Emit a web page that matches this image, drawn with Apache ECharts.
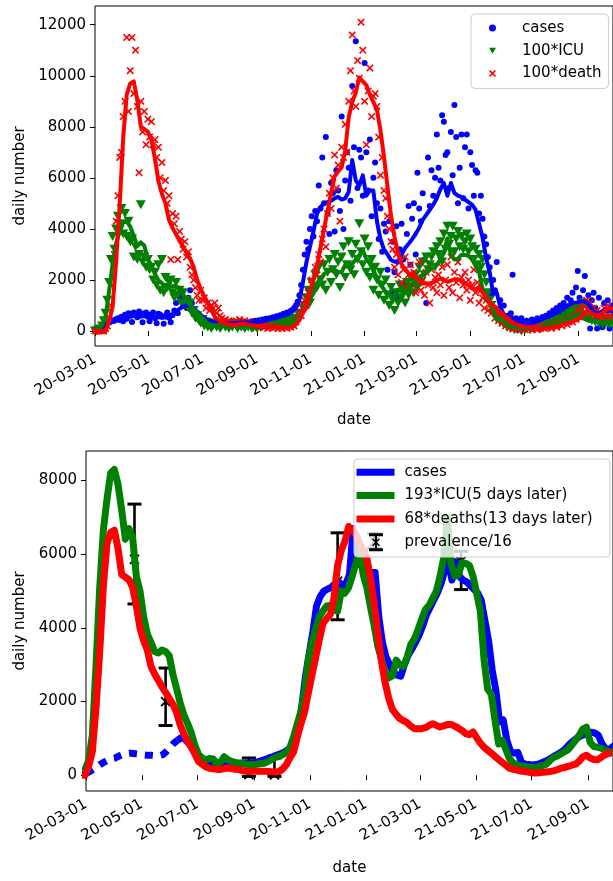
<!DOCTYPE html>
<html>
<head>
<meta charset="UTF-8">
<title>daily number</title>
<script src="https://cdn.jsdelivr.net/npm/echarts@6.0.0/dist/echarts.min.js"></script>
<style>
  html, body { margin: 0; padding: 0; background: #fff; }
  #chart_top { position: absolute; left: 0; top: 0; width: 613px; height: 440px; }
  #chart_bottom { position: absolute; left: 0; top: 440px; width: 613px; height: 441px; }
</style>
</head>
<body>
<div id="chart_top"></div>
<div id="chart_bottom"></div>
<script>
// day 0 = 2020-03-01
var START = Date.UTC(2020, 2, 1);
function dayOf(s) {
  var p = s.split('-');
  return (Date.UTC(+p[0], +p[1] - 1, +p[2]) - START) / 86400000;
}

var tickLabels = ['20-03-01', '20-05-01', '20-07-01', '20-09-01', '20-11-01',
                  '21-01-01', '21-03-01', '21-05-01', '21-07-01', '21-09-01'];
var tickDays = tickLabels.map(function (t) { return dayOf('20' + t); });

var topYTicks = [0, 2000, 4000, 6000, 8000, 10000, 12000];
var bottomYTicks = [0, 2000, 4000, 6000, 8000];

// daily points, one every 2 days from 2020-03-01
var DAILY_STEP = 2;
var casesDaily = [
  20, 40, 60, 120, 150, 200, 260, 300, 330, 380, 420, 400, 460, 500, 430,
  560, 380, 640, 480, 700, 620, 350, 720, 680, 540, 760, 600, 340, 700, 720,
  560, 380, 660, 720, 500, 300, 680, 640, 560, 280, 600, 720, 520, 340, 620,
  800, 1100, 700, 1300, 1500, 1200, 1000, 900, 1300, 1600, 1100, 800, 600, 520, 450,
  380, 300, 420, 350, 260, 320, 380, 240, 300, 350, 220, 280, 330, 260, 300,
  320, 250, 280, 350, 300, 240, 330, 380, 280, 310, 360, 290, 340, 300, 380,
  330, 400, 350, 420, 380, 450, 400, 480, 440, 500, 460, 540, 520, 580, 560,
  620, 600, 680, 640, 720, 700, 780, 820, 900, 1000, 1150, 1400, 1800, 2400, 3000,
  3500, 3200, 4000, 4500, 3700, 4700, 4300, 5700, 4800, 6800, 5000, 7600, 4600, 3800, 5800,
  5400, 3900, 6300, 5500, 4700, 8400, 4000, 5900, 7000, 6400, 5100, 9600, 7200, 11350, 5600,
  7100, 6800, 5300, 10500, 7000, 5500, 7500, 4500, 6000, 6600, 5000, 3600, 4800, 3100, 4200,
  3900, 2400, 4300, 1500, 3500, 2300, 4100, 1300, 3200, 4200, 2800, 1800, 3800, 4900, 2600,
  4400, 5000, 3000, 6200, 4800, 4300, 5400, 2800, 1100, 6800, 4900, 6300, 5300, 6000, 7700,
  6400, 5900, 8450, 8200, 6900, 7000, 5600, 7800, 6100, 8850, 7600, 5000, 6400, 7700, 5200,
  7200, 7700, 4800, 7000, 6500, 5300, 6300, 6200, 4600, 5300, 4400, 3700, 3400, 2900, 2500,
  1400, 2000, 1600, 2700, 800, 1200, 500, 1000, 250, 600, 400, 700, 2200, 300, 500,
  200, 350, 500, 300, 150, 400, 300, 250, 450, 350, 200, 500, 400, 300, 550,
  450, 600, 350, 700, 550, 800, 400, 900, 650, 1000, 750, 1100, 800, 1300, 950,
  1200, 1500, 1000, 1700, 2350, 1300, 1100, 1600, 2150, 1000, 1400, 100, 1200, 1500, 900,
  100, 1300, 600, 150, 1100, 800, 1200, 100, 900, 1000, 700
];
var icuDaily = [
  0, 0, 50, 80, 200, 400, 700, 1200, 1900, 2800, 3700, 3200, 4000, 4500, 4200,
  4800, 3800, 4600, 3700, 4300, 3500, 3600, 2900, 3300, 2800, 3000, 4950, 2700, 2900, 2500,
  2800, 2400, 2500, 2000, 2300, 1800, 2600, 1600, 2800, 1500, 2100, 1700, 1900, 2000, 1500,
  1300, 1900, 1400, 1600, 1100, 1500, 1000, 1200, 900, 1100, 700, 800, 500, 600, 400,
  300, 450, 200, 350, 150, 250, 100, 200, 300, 150, 250, 100, 200, 300, 150,
  200, 100, 250, 150, 300, 200, 100, 250, 150, 200, 100, 200, 150, 250, 100,
  150, 200, 100, 250, 150, 200, 300, 150, 250, 200, 300, 250, 350, 200, 300,
  250, 350, 300, 250, 400, 300, 350, 450, 400, 500, 450, 600, 700, 900, 1000,
  1300, 1600, 1100, 1900, 1500, 2200, 1700, 2500, 2000, 1800, 2600, 1600, 2300, 2800, 1900,
  2400, 3000, 2200, 2700, 1700, 2900, 3300, 2100, 2600, 3500, 2400, 3000, 2200, 3400, 2800,
  4200, 3100, 2600, 3600, 2300, 3300, 2100, 2800, 1600, 2500, 2000, 1400, 2300, 1800, 1200,
  2000, 1400, 1000, 1700, 1200, 800, 1500, 1100, 1800, 1300, 1600, 1100, 1900, 1400, 1700,
  2000, 1500, 2200, 1700, 2500, 1900, 2700, 2200, 2900, 2400, 2600, 2900, 3100, 2500, 3300,
  3000, 3500, 2700, 3800, 3200, 4100, 3400, 3700, 4100, 3100, 3600, 3900, 3300, 3700, 3200,
  3500, 3800, 3100, 3600, 3300, 2800, 3200, 2600, 3000, 2500, 2800, 2200, 1900, 1500, 1200,
  1000, 700, 800, 500, 600, 350, 400, 250, 300, 150, 200, 100, 150, 50, 100,
  50, 100, 0, 150, 50, 100, 200, 50, 150, 100, 200, 150, 250, 100, 200,
  250, 150, 300, 200, 350, 250, 400, 300, 450, 350, 500, 400, 600, 450, 700,
  550, 800, 650, 900, 750, 1000, 850, 1100, 600, 950, 500, 800, 400, 700, 350,
  600, 300, 500, 250, 450, 300, 500, 250, 400, 300, 450
];
var deathDaily = [
  0, 0, 0, 0, 0, 0, 100, 200, 500, 1000, 1800, 3000, 4300, 5300, 6800,
  7000, 8400, 9000, 11500, 8600, 10200, 11500, 9300, 11000, 8800, 6200, 9000, 7800, 8600, 7300,
  8300, 7600, 8200, 7300, 7500, 6800, 7200, 6000, 6600, 5500, 5900, 5000, 5300, 2800, 4600,
  4200, 4500, 2800, 3900, 3600, 3200, 3500, 2900, 3100, 2500, 2200, 2000, 1700, 1400, 1200,
  1600, 1200, 1300, 900, 1100, 800, 1000, 900, 1100, 700, 900, 600, 500, 400, 450,
  350, 400, 300, 350, 250, 400, 300, 450, 350, 300, 400, 250, 350, 300, 250,
  300, 200, 250, 150, 200, 250, 150, 200, 100, 150, 200, 100, 150, 200, 100,
  150, 100, 200, 150, 100, 200, 150, 250, 200, 350, 500, 700, 600, 900, 1200,
  1000, 1500, 1300, 2000, 1700, 2500, 2200, 3000, 2700, 3600, 4000, 3300, 4600, 5400, 4800,
  6000, 6900, 5600, 6500, 4300, 7200, 6800, 8100, 7000, 9000, 10200, 11600, 9400, 8800, 10600,
  9900, 12100, 11000, 9000, 7300, 9400, 10300, 8400, 9200, 9300, 8800, 7600, 6100, 6800, 5500,
  5200, 4500, 4000, 3500, 3200, 2500, 3000, 2200, 2700, 1900, 2400, 2900, 1700, 2200, 2600,
  1800, 2300, 1500, 2100, 2700, 1600, 2000, 1400, 2300, 1800, 1100, 2400, 1700, 2100, 1500,
  2200, 1800, 2500, 1400, 2000, 2600, 1700, 2900, 1500, 2300, 1900, 2700, 1300, 2100, 1800,
  2300, 1600, 2000, 1200, 1800, 2400, 1500, 1900, 1100, 1600, 1300, 900, 1200, 800, 1000,
  700, 900, 500, 700, 400, 600, 300, 500, 200, 400, 150, 300, 100, 250, 100,
  150, 50, 200, 100, 50, 150, 100, 200, 50, 150, 100, 50, 200, 100, 150,
  100, 200, 150, 250, 100, 200, 300, 150, 250, 350, 200, 300, 400, 250, 350,
  500, 350, 600, 450, 800, 550, 900, 1000, 700, 1200, 850, 1100, 700, 900, 600,
  800, 500, 700, 450, 900, 600, 1000, 550, 800, 650, 700
];

// smoothed curves, one point every 4 days from 2020-03-01
var AVG_STEP = 4;
var casesAvg = [
  50, 100, 160, 230, 300, 360, 410, 450, 470, 520,
  560, 590, 600, 590, 580, 560, 550, 540, 540, 530,
  530, 560, 650, 760, 870, 950, 1020, 980, 880, 760,
  640, 520, 430, 380, 350, 330, 310, 300, 300, 300,
  310, 320, 330, 330, 330, 340, 350, 370, 400, 430,
  470, 500, 540, 580, 620, 680, 760, 900, 1200, 1900,
  2700, 3300, 3900, 4600, 4850, 5000, 5050, 5100, 5200, 5250,
  5150, 5200, 5450, 6700, 5900, 5700, 6100, 5300, 5500, 5500,
  4300, 3600, 3200, 3000, 2780, 2720, 2690, 3000, 3250, 3420,
  3600, 3800, 4050, 4350, 4550, 4750, 4950, 5200, 5550, 5800,
  5300, 5800, 5400, 5300, 5250, 5150, 5050, 4950, 4750, 4200,
  3650, 2850, 2300, 1450, 1500, 950, 650, 600, 620, 350,
  300, 290, 280, 290, 320, 360, 400, 460, 520, 580,
  640, 720, 830, 920, 1000, 1060, 1100, 1130, 1170, 1150,
  1080, 850, 720, 700, 780, 850, 800, 750
];
var icuAvg = [
  50, 80, 210, 570, 1550, 2640, 3450, 3890, 4250, 4300,
  4090, 3730, 3320, 3470, 3340, 2800, 2590, 2230, 1990, 1870,
  1740, 1720, 1760, 1740, 1680, 1420, 1220, 1010, 850, 730,
  600, 420, 290, 245, 220, 235, 230, 165, 185, 260,
  220, 195, 180, 170, 165, 155, 150, 150, 155, 165,
  170, 195, 220, 250, 265, 290, 320, 395, 545, 725,
  905, 1190, 1630, 1870, 2060, 2230, 2310, 2380, 2390, 2320,
  2310, 2590, 2560, 2640, 2800, 2980, 3160, 2820, 2640, 2360,
  2100, 1810, 1630, 1450, 1370, 1400, 1620, 1550, 1530, 1660,
  1840, 1920, 2050, 2200, 2330, 2390, 2490, 2590, 2800, 3060,
  3630, 2980, 2800, 2820, 2990, 2980, 2950, 2800, 2560, 2310,
  1630, 1210, 1140, 780, 440, 490, 360, 230, 175, 145,
  135, 125, 115, 110, 105, 120, 135, 155, 205, 250,
  270, 300, 330, 360, 425, 490, 560, 650, 675, 465,
  405, 395, 380, 360, 330, 330, 320, 310
];
var deathAvg = [
  0, 0, 0, 0, 370, 960, 2720, 4930, 7570, 9260,
  9700, 9780, 9050, 8010, 7910, 7800, 7490, 6760, 5880, 5370,
  5000, 4350, 4040, 3790, 3530, 3310, 3070, 2840, 2500, 2000,
  1650, 1350, 1120, 850, 550, 440, 340, 280, 260, 235,
  235, 265, 290, 270, 240, 225, 190, 160, 160, 160,
  160, 160, 160, 150, 140, 125, 150, 250, 430, 700,
  940, 1530, 2060, 2540, 3280, 4000, 4700, 5410, 6060, 6250,
  6410, 7060, 8380, 8970, 9340, 9930, 9780, 9630, 9260, 8970,
  8660, 7870, 6840, 5660, 4530, 3680, 3060, 2620, 2430, 2260,
  2180, 2100, 1960, 1860, 1860, 1860, 1900, 1990, 2060, 1990,
  1930, 1970, 2030, 2030, 1960, 1880, 1790, 1660, 1620, 1730,
  1500, 1290, 1120, 1000, 880, 750, 630, 510, 400, 280,
  235, 205, 170, 150, 125, 100, 95, 100, 120, 130,
  150, 175, 220, 280, 310, 350, 400, 440, 560, 735,
  800, 690, 630, 620, 710, 810, 880, 880
];

// lower panel: 193*ICU moved 5 days back, 68*deaths moved 13 days back
var ICU_FACTOR = 1.93, ICU_LAG = 5;
var DEATH_FACTOR = 0.68, DEATH_LAG = 13;
var CASES_DASHED_UNTIL = 100;

var prevDates = ['2020-04-23', '2020-05-27', '2020-08-26', '2020-09-23', '2020-12-01', '2021-01-10', '2021-04-15'];
var prevMid  = [5860, 2000, 20, 10, 5270, 6340, 5810];
var prevLow  = [4650, 1350, -30, -30, 4220, 6160, 5040];
var prevHigh = [7360, 2910, 470, 470, 6580, 6560, 6080];

var BLUE = '#0000ff', GREEN = '#008000', RED = '#ff0000';
var FONT = 'DejaVu Sans';
var TRI = 'path://M0,0 L10,0 L5,8.7 Z';
var XMARK = 'path://M0,1.5 L1.5,0 L5,3.5 L8.5,0 L10,1.5 L6.5,5 L10,8.5 L8.5,10 L5,6.5 L1.5,10 L0,8.5 L3.5,5 Z';
var EBAR = 'path://M0,0 H14 V3 H0 Z M0,15 H14 V18 H0 Z M6,3 H8 V15 H6 Z M3,6 L4,5 L11,12 L10,13 Z M10,5 L11,6 L4,13 L3,12 Z';

function pts(values, step, lag, factor) {
  return values.map(function (v, i) { return [i * step - lag, v * factor]; });
}
function tickFmt(v) {
  var i = tickDays.indexOf(v);
  return i >= 0 ? tickLabels[i] : '';
}
function textWidth(s) {
  var ctx = document.createElement('canvas').getContext('2d');
  ctx.font = '15px "' + FONT + '"';
  return ctx.measureText(s).width;
}
function xAxisOpt(max, gap) {
  return {
    type: 'value', min: 0, max: max,
    axisLine: { show: false }, splitLine: { show: false },
    axisTick: { customValues: tickDays, length: 5, lineStyle: { color: '#000', width: 1 } },
    axisLabel: { customValues: tickDays, formatter: tickFmt, rotate: 30, margin: 12,
                 color: '#000', fontSize: 15, fontFamily: FONT },
    name: 'date', nameLocation: 'middle', nameGap: gap,
    nameTextStyle: { color: '#000', fontSize: 15, fontFamily: FONT }
  };
}
function yAxisOpt(min, max, ticks, gap) {
  return {
    type: 'value', min: min, max: max,
    axisLine: { show: false }, splitLine: { show: false },
    axisTick: { customValues: ticks, length: 5, lineStyle: { color: '#000', width: 1 } },
    axisLabel: { customValues: ticks, margin: 9, formatter: function (v) { return String(v); },
                 color: '#000', fontSize: 15, fontFamily: FONT },
    name: 'daily number', nameLocation: 'middle', nameGap: gap,
    nameTextStyle: { color: '#000', fontSize: 15, fontFamily: FONT }
  };
}

// ---------- upper chart ----------
var topChart = echarts.init(document.getElementById('chart_top'), null, { renderer: 'canvas' });
topChart.setOption({
  animation: false,
  grid: { left: 95, top: 6, right: -4, height: 340, show: true, borderColor: '#000', borderWidth: 1 },
  xAxis: xAxisOpt(588, 67),
  yAxis: yAxisOpt(-588, 12733, topYTicks, 57),
  legend: {
    orient: 'vertical', left: 471, top: 14, selectedMode: false,
    itemWidth: 7, itemHeight: 7, itemGap: 6.7,
    padding: [6, 7, 7, 18],
    backgroundColor: 'rgba(255,255,255,0.8)', borderColor: '#cccccc', borderWidth: 1, borderRadius: 4,
    textStyle: { color: '#000', fontSize: 15, fontFamily: FONT, lineHeight: 16, padding: [0, 0, 0, 21] },
    data: [{ name: 'cases', icon: 'circle' }, { name: '100*ICU', icon: TRI }, { name: '100*death', icon: XMARK }]
  },
  series: [
    { name: 'cases', type: 'scatter', data: pts(casesDaily, DAILY_STEP, 0, 1),
      symbol: 'circle', symbolSize: 6, itemStyle: { color: BLUE, opacity: 1 } },
    { name: '100*ICU', type: 'scatter', data: pts(icuDaily, DAILY_STEP, 0, 1),
      symbol: TRI, symbolSize: [10, 9], itemStyle: { color: GREEN, opacity: 1 } },
    { name: '100*death', type: 'scatter', data: pts(deathDaily, DAILY_STEP, 0, 1),
      symbol: XMARK, symbolSize: 7.5, itemStyle: { color: RED, opacity: 1 } },
    { name: 'cases smooth', type: 'line', data: pts(casesAvg, AVG_STEP, 0, 1), symbol: 'none',
      color: BLUE, lineStyle: { color: BLUE, width: 4, join: 'round' } },
    { name: 'ICU smooth', type: 'line', data: pts(icuAvg, AVG_STEP, 0, 1), symbol: 'none',
      color: GREEN, lineStyle: { color: GREEN, width: 4, join: 'round' } },
    { name: 'death smooth', type: 'line', data: pts(deathAvg, AVG_STEP, 0, 1), symbol: 'none',
      color: RED, lineStyle: { color: RED, width: 4, join: 'round' } }
  ]
});

// ---------- lower chart ----------
var casesLine = pts(casesAvg, AVG_STEP, 0, 1);
var prevData = prevDates.map(function (d, i) { return [dayOf(d), prevMid[i], prevLow[i], prevHigh[i]]; });

function renderErrorBar(params, api) {
  var x = api.value(0);
  var pm = api.coord([x, api.value(1)]);
  var pl = api.coord([x, api.value(2)]);
  var ph = api.coord([x, api.value(3)]);
  var s = { stroke: '#000', lineWidth: 2.6 };
  var c = { stroke: '#000', lineWidth: 3 };
  var m = { stroke: '#000', lineWidth: 1.8 };
  return {
    type: 'group',
    children: [
      { type: 'line', shape: { x1: pl[0], y1: pl[1], x2: ph[0], y2: ph[1] }, style: s },
      { type: 'line', shape: { x1: pl[0] - 7, y1: pl[1], x2: pl[0] + 7, y2: pl[1] }, style: c },
      { type: 'line', shape: { x1: ph[0] - 7, y1: ph[1], x2: ph[0] + 7, y2: ph[1] }, style: c },
      { type: 'line', shape: { x1: pm[0] - 4.5, y1: pm[1] - 4.5, x2: pm[0] + 4.5, y2: pm[1] + 4.5 }, style: m },
      { type: 'line', shape: { x1: pm[0] - 4.5, y1: pm[1] + 4.5, x2: pm[0] + 4.5, y2: pm[1] - 4.5 }, style: m }
    ]
  };
}

// legend frame: 354..610 wide, 19..117 high (chart coordinates)
var BOX_W = 256, BOX_H = 98, PAD_T = 5.3, PAD_L = 2.5;
var lineLegendH = 3 * 16 + 2 * 7.3;
var padR = BOX_W - PAD_L - (38 + 5 + 5 + textWidth('68*deaths(13 days later)'));

var bottomChart = echarts.init(document.getElementById('chart_bottom'), null, { renderer: 'canvas' });
bottomChart.setOption({
  animation: false,
  grid: { left: 86, top: 11, right: -5, height: 345.7, show: true, borderColor: '#000', borderWidth: 1 },
  xAxis: xAxisOpt(576, 70),
  yAxis: yAxisOpt(-427, 8801, bottomYTicks, 48),
  legend: [{
    orient: 'vertical', left: 354, top: 19, selectedMode: false, z: 4,
    padding: [PAD_T, padR, BOX_H - PAD_T - lineLegendH, PAD_L],
    backgroundColor: 'rgba(255,255,255,0.8)', borderColor: '#cccccc', borderWidth: 1, borderRadius: 4,
    itemWidth: 38, itemHeight: 7, itemGap: 7.3,
    textStyle: { color: '#000', fontSize: 15, fontFamily: FONT, lineHeight: 16, padding: [0, 0, 0, 5] },
    data: [{ name: 'cases', icon: 'rect' },
           { name: '193*ICU(5 days later)', icon: 'rect' },
           { name: '68*deaths(13 days later)', icon: 'rect' }]
  }, {
    orient: 'vertical', left: 369, top: 93.3, padding: 0, selectedMode: false, z: 5,
    itemWidth: 14, itemHeight: 18,
    textStyle: { color: '#000', fontSize: 15, fontFamily: FONT, lineHeight: 16, padding: [0, 0, 0, 16.6] },
    data: [{ name: 'prevalence/16', icon: EBAR }]
  }],
  series: [
    { name: 'cases', type: 'line', symbol: 'none', color: BLUE,
      data: casesLine.filter(function (p) { return p[0] >= CASES_DASHED_UNTIL; }),
      lineStyle: { color: BLUE, width: 7, join: 'round' } },
    { name: 'cases (early)', type: 'line', symbol: 'none', color: BLUE,
      data: casesLine.filter(function (p) { return p[0] <= CASES_DASHED_UNTIL; }),
      lineStyle: { color: BLUE, width: 7, type: [8, 8] } },
    { name: '193*ICU(5 days later)', type: 'line', symbol: 'none', color: GREEN,
      data: pts(icuAvg, AVG_STEP, ICU_LAG, ICU_FACTOR),
      lineStyle: { color: GREEN, width: 7, join: 'round' } },
    { name: '68*deaths(13 days later)', type: 'line', symbol: 'none', color: RED,
      data: pts(deathAvg, AVG_STEP, DEATH_LAG, DEATH_FACTOR),
      lineStyle: { color: RED, width: 7, join: 'round' } },
    { name: 'prevalence/16', type: 'custom', color: '#000', itemStyle: { color: '#000' },
      renderItem: renderErrorBar, data: prevData, encode: { x: 0, y: 1 }, z: 2.5 }
  ]
});
</script>
</body>
</html>
